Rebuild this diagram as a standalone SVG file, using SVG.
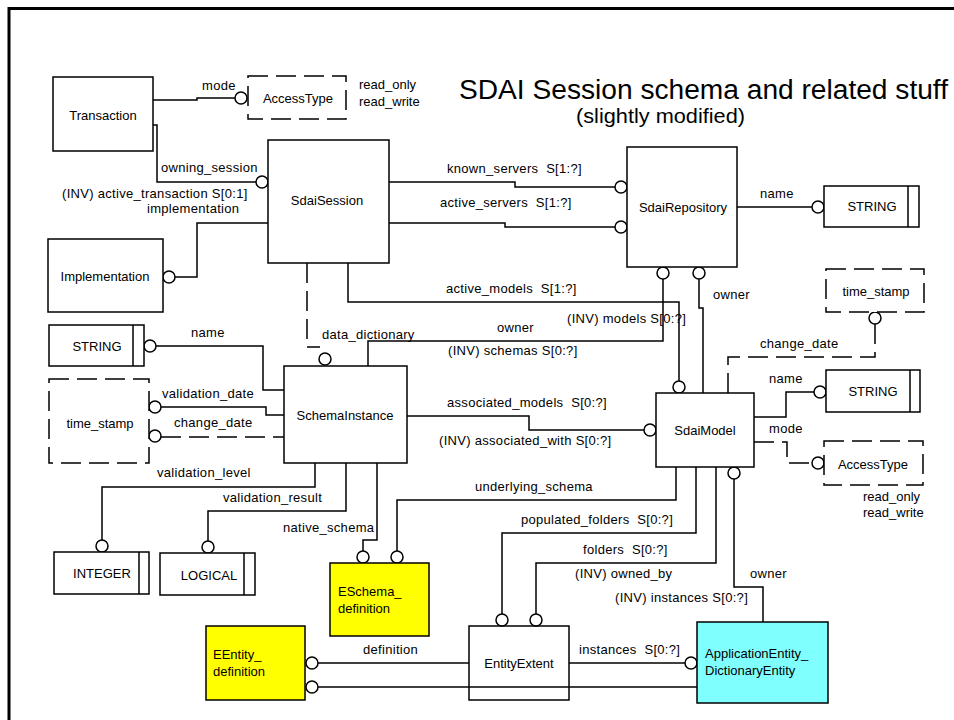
<svg xmlns="http://www.w3.org/2000/svg" width="954" height="720" viewBox="0 0 954 720">
  <style>
    .box { fill: #ffffff; stroke: #000000; stroke-width: 1.5; }
    .dbox { fill: #ffffff; stroke: #000000; stroke-width: 1.5; stroke-dasharray: 20 8; }
    .yellow { fill: #ffff00; stroke: #000000; stroke-width: 1.5; }
    .cyan { fill: #80ffff; stroke: #000000; stroke-width: 1.5; }
    .ln { fill: none; stroke: #000000; stroke-width: 1.5; }
    .dln { fill: none; stroke: #000000; stroke-width: 1.5; stroke-dasharray: 20 8; }
    .ring { fill: #ffffff; stroke: #000000; stroke-width: 1.5; }
    text { font-family: "Liberation Sans", Arial, sans-serif; font-size: 13px; fill: #000000; white-space: pre; }
    #connectors text { letter-spacing: 0.3px; }
    .c { text-anchor: middle; }
  </style>

  <!-- outer frame -->
  <rect x="9" y="8.5" width="980" height="740" fill="none" stroke="#000000" stroke-width="3"/>

  <!-- title -->
  <text x="459" y="99" style="font-size:27px" textLength="489" lengthAdjust="spacingAndGlyphs">SDAI Session schema and related stuff</text>
  <text x="576" y="123" style="font-size:21px" textLength="169" lengthAdjust="spacingAndGlyphs">(slightly modified)</text>

  <!-- connectors -->
  <g id="connectors">
    <path class="ln" d="M153 100 H197 V98 H235"/>
    <circle class="ring" cx="241" cy="98" r="6"/>
    <text x="202" y="90">mode</text>

    <path class="ln" d="M153 125 H157 V182 H256"/>
    <circle class="ring" cx="262" cy="182" r="6"/>
    <text x="161" y="172">owning_session</text>
    <text x="62" y="198">(INV) active_transaction S[0:1]</text>

    <path class="ln" d="M268 223 H197 V277 H175"/>
    <circle class="ring" cx="169" cy="277" r="6"/>
    <text x="147" y="213">implementation</text>

    <path class="dln" d="M307 263 V347 H320"/>
    <circle class="ring" cx="325" cy="359" r="6"/>
    <text x="322" y="339">data_dictionary</text>

    <path class="ln" d="M389 182 H515 V187 H615"/>
    <circle class="ring" cx="621" cy="187" r="6"/>
    <text x="447" y="173">known_servers  S[1:?]</text>

    <path class="ln" d="M389 223 H505 V227 H615"/>
    <circle class="ring" cx="621" cy="227" r="6"/>
    <text x="440" y="207">active_servers  S[1:?]</text>

    <path class="ln" d="M737 207 H812"/>
    <circle class="ring" cx="818" cy="207" r="6"/>
    <text x="760" y="198">name</text>

    <path class="ln" d="M348 263 V302 H679 V381"/>
    <circle class="ring" cx="679" cy="387" r="6"/>
    <text x="446" y="293">active_models  S[1:?]</text>
    <text x="567" y="323">(INV) models S[0:?]</text>

    <path class="ln" d="M368 366 V341 H663 V279"/>
    <circle class="ring" cx="663" cy="273" r="6"/>
    <text x="497" y="332">owner</text>
    <text x="448" y="355">(INV) schemas S[0:?]</text>

    <circle class="ring" cx="699" cy="273" r="6"/>
    <path class="ln" d="M699 279 V308 H703 V393"/>
    <text x="713" y="299">owner</text>

    <path class="ln" d="M156 346 H263 V390 H284"/>
    <circle class="ring" cx="150" cy="346" r="6"/>
    <text x="191" y="337">name</text>

    <path class="ln" d="M161 407 H266 V415 H284"/>
    <circle class="ring" cx="155" cy="407" r="6"/>
    <text x="162" y="398">validation_date</text>

    <path class="dln" d="M161 437 H284"/>
    <circle class="ring" cx="155" cy="436" r="6"/>
    <text x="174" y="427">change_date</text>

    <path class="ln" d="M315 463 V487 H102 V540"/>
    <circle class="ring" cx="102" cy="546" r="6"/>
    <text x="157" y="477">validation_level</text>

    <path class="ln" d="M346 463 V511 H208 V541"/>
    <circle class="ring" cx="208" cy="547" r="6"/>
    <text x="223" y="502">validation_result</text>

    <path class="ln" d="M377 463 V540 H363 V551"/>
    <circle class="ring" cx="363" cy="557" r="6"/>
    <text x="283" y="532">native_schema</text>

    <path class="ln" d="M676 467 V500 H397 V551"/>
    <circle class="ring" cx="397" cy="557" r="6"/>
    <text x="475" y="491">underlying_schema</text>

    <path class="ln" d="M407 416 H529 V430 H644"/>
    <circle class="ring" cx="650" cy="430" r="6"/>
    <text x="447" y="407">associated_models  S[0:?]</text>
    <text x="439" y="445">(INV) associated_with S[0:?]</text>

    <path class="ln" d="M696 467 V533 H502 V614"/>
    <circle class="ring" cx="502" cy="620" r="6"/>
    <text x="521" y="524">populated_folders  S[0:?]</text>

    <path class="ln" d="M716 467 V563 H536 V614"/>
    <circle class="ring" cx="536" cy="620" r="6"/>
    <text x="583" y="554">folders  S[0:?]</text>
    <text x="575" y="578">(INV) owned_by</text>

    <circle class="ring" cx="734" cy="473" r="6"/>
    <path class="ln" d="M734 479 V587 H763 V622"/>
    <text x="750" y="578">owner</text>
    <text x="615" y="602">(INV) instances S[0:?]</text>

    <path class="ln" d="M318 663 H469"/>
    <circle class="ring" cx="312" cy="663" r="6"/>
    <text x="363" y="654">definition</text>

    <path class="ln" d="M318 687 H697"/>
    <circle class="ring" cx="312" cy="687" r="6"/>

    <path class="ln" d="M569 663 H685"/>
    <circle class="ring" cx="691" cy="663" r="6"/>
    <text x="579" y="654">instances  S[0:?]</text>

    <circle class="ring" cx="875" cy="318" r="6"/>
    <path class="dln" d="M875 324 V357 H728 V393"/>
    <text x="760" y="348">change_date</text>

    <path class="ln" d="M754 417 H786 V392 H814"/>
    <circle class="ring" cx="820" cy="392" r="6"/>
    <text x="769" y="383">name</text>

    <path class="dln" d="M754 442 H787 V463 H812"/>
    <circle class="ring" cx="818" cy="463" r="6"/>
    <text x="769" y="433">mode</text>
  </g>

  <!-- nodes -->
  <g id="transaction">
    <rect class="box" x="53" y="77" width="100" height="74"/>
    <text class="c" x="103" y="120">Transaction</text>
  </g>

  <g id="accesstype-top">
    <rect class="dbox" x="248" y="76" width="98" height="43"/>
    <text class="c" x="298" y="103">AccessType</text>
    <text x="359" y="89">read_only</text>
    <text x="359" y="106">read_write</text>
  </g>

  <g id="sdaisession">
    <rect class="box" x="268" y="140" width="121" height="123"/>
    <text class="c" x="327" y="205">SdaiSession</text>
  </g>

  <g id="implementation">
    <rect class="box" x="48" y="239" width="115" height="73"/>
    <text class="c" x="105" y="281">Implementation</text>
  </g>

  <g id="sdairepository">
    <rect class="box" x="627" y="147" width="110" height="120"/>
    <text class="c" x="683" y="212">SdaiRepository</text>
  </g>

  <g id="string-repository">
    <rect class="box" x="824" y="186" width="95" height="41"/>
    <line class="ln" x1="908" y1="186" x2="908" y2="227"/>
    <text class="c" x="872" y="211">STRING</text>
  </g>

  <g id="string-schema">
    <rect class="box" x="49" y="325" width="95" height="41"/>
    <line class="ln" x1="133" y1="325" x2="133" y2="366"/>
    <text class="c" x="97" y="351">STRING</text>
  </g>

  <g id="timestamp-schema">
    <rect class="dbox" x="49" y="379" width="100" height="84"/>
    <text class="c" x="100" y="428">time_stamp</text>
  </g>

  <g id="schemainstance">
    <rect class="box" x="284" y="366" width="123" height="97"/>
    <text class="c" x="345" y="420">SchemaInstance</text>
  </g>

  <g id="integer">
    <rect class="box" x="54" y="552" width="95" height="42"/>
    <line class="ln" x1="139" y1="552" x2="139" y2="594"/>
    <text class="c" x="102" y="578">INTEGER</text>
  </g>

  <g id="logical">
    <rect class="box" x="160" y="553" width="95" height="42"/>
    <line class="ln" x1="244" y1="553" x2="244" y2="595"/>
    <text class="c" x="209" y="580">LOGICAL</text>
  </g>

  <g id="eschema-definition">
    <rect class="yellow" x="330" y="563" width="99" height="73"/>
    <text x="338" y="596">ESchema_</text>
    <text x="338" y="613">definition</text>
  </g>

  <g id="eentity-definition">
    <rect class="yellow" x="206" y="626" width="99" height="74"/>
    <text x="213" y="659">EEntity_</text>
    <text x="213" y="676">definition</text>
  </g>

  <g id="entityextent">
    <rect class="box" x="469" y="626" width="100" height="74" fill-opacity="0"/>
    <text class="c" x="519" y="668">EntityExtent</text>
  </g>

  <g id="applicationentity">
    <rect class="cyan" x="697" y="622" width="131" height="81"/>
    <text x="705" y="658">ApplicationEntity_</text>
    <text x="705" y="675">DictionaryEntity</text>
  </g>

  <g id="sdaimodel">
    <rect class="box" x="656" y="393" width="98" height="74"/>
    <text class="c" x="705" y="435">SdaiModel</text>
  </g>

  <g id="timestamp-model">
    <rect class="dbox" x="826" y="269" width="98" height="43"/>
    <text class="c" x="876" y="296">time_stamp</text>
  </g>

  <g id="string-model">
    <rect class="box" x="826" y="370" width="94" height="42"/>
    <line class="ln" x1="910" y1="370" x2="910" y2="412"/>
    <text class="c" x="873" y="396">STRING</text>
  </g>

  <g id="accesstype-model">
    <rect class="dbox" x="824" y="441" width="99" height="44"/>
    <text class="c" x="873" y="469">AccessType</text>
    <text x="863" y="501">read_only</text>
    <text x="863" y="517">read_write</text>
  </g>
</svg>
